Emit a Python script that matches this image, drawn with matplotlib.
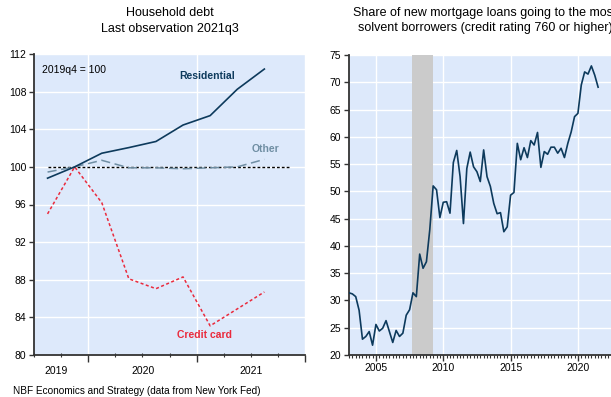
import numpy as np
import matplotlib
matplotlib.use("Agg")
import matplotlib.pyplot as plt
from matplotlib.ticker import FixedLocator, MultipleLocator, NullFormatter

plt.rcParams['font.family'] = ['Liberation Sans', 'DejaVu Sans']

# ---- Household debt, index 2019q4 = 100 (2019q3 .. 2021q3) ----
quarters = ["2019q3", "2019q4", "2020q1", "2020q2", "2020q3", "2020q4",
            "2021q1", "2021q2", "2021q3"]
residential = [98.8, 100.0, 101.45, 102.05, 102.7, 104.45, 105.45, 108.25, 110.4]
other = [99.45, 100.0, 100.7, 99.9, 99.9, 99.8, 99.9, 100.0, 100.8]
credit_card = [95.0, 100.0, 96.2, 88.1, 87.05, 88.3, 83.1, 84.9, 86.7]
year_labels = ["2019", "2020", "2021"]

# ---- Share of new mortgage loans to borrowers with credit score >= 760 ----
share_start = 2003.0
share_760 = [
    31.4, 31.2, 30.7, 28.2,   # 2003
    22.9, 23.4, 24.3, 21.8,   # 2004
    25.6, 24.4, 24.9, 26.3,   # 2005
    24.3, 22.3, 24.5, 23.4,   # 2006
    24.0, 27.3, 28.3, 31.4,   # 2007
    30.7, 38.5, 35.9, 37.1,   # 2008
    43.0, 51.0, 50.3, 45.2,   # 2009
    48.0, 48.1, 46.0, 55.3,   # 2010
    57.5, 52.7, 44.1, 54.2,   # 2011
    57.2, 54.5, 53.6, 51.8,   # 2012
    57.6, 52.7, 50.9, 47.8,   # 2013
    45.9, 46.1, 42.6, 43.5,   # 2014
    49.3, 49.8, 58.8, 55.8,   # 2015
    58.0, 56.2, 59.3, 58.5,   # 2016
    60.8, 54.4, 57.3, 56.8,   # 2017
    58.1, 58.1, 57.0, 57.9,   # 2018
    56.2, 58.8, 60.9, 63.7,   # 2019
    64.3, 69.5, 71.9, 71.5,   # 2020
    73.0, 71.3, 69.1,         # 2021
]
recession = (2007.7, 2009.25)

BG = "#dde9fb"
NAVY = "#0d3a5c"
OTHER = "#6f8ea3"
RED = "#ea2a3c"
SPINE = "#333333"

fig = plt.figure(figsize=(6.11, 3.97), dpi=100)

# ---------------- left panel ----------------
ax1 = fig.add_axes([34 / 611, 1 - 355 / 397, 271 / 611, 301 / 397])
ax1.set_facecolor(BG)
xq = np.arange(len(quarters)) + 0.5

ax1.plot([xq[0], xq[-1] + 1], [100, 100], color="black", lw=1.0,
         ls=(0, (2, 1.5)), zorder=3)
ax1.plot(xq, other, color=OTHER, lw=1.1, ls=(0, (6, 3)), zorder=4)
ax1.plot(xq, credit_card, color=RED, lw=1.1, ls=(0, (2, 1.6)), zorder=4)
ax1.plot(xq, residential, color=NAVY, lw=1.2, zorder=5)

ax1.set_xlim(0, 10)
ax1.set_ylim(80, 112)
ax1.set_yticks(np.arange(80, 113, 4))
ax1.xaxis.set_major_locator(FixedLocator([2, 6, 10]))
ax1.xaxis.set_major_formatter(NullFormatter())
ax1.xaxis.set_minor_locator(MultipleLocator(1))
ax1.grid(True, which="major", color="white", lw=1.0)
for x, lab in zip([0.8, 4.03, 8.03], year_labels):
    ax1.text(x, -0.035, lab, transform=ax1.get_xaxis_transform(),
             ha="center", va="top", fontsize=7.5)

ax1.text(0.03, 0.965, "2019q4 = 100", transform=ax1.transAxes,
         fontsize=7.5, ha="left", va="top")
ax1.text(6.4, 109.7, "Residential", color=NAVY, fontsize=7.5,
         fontweight="bold", ha="center", va="center")
ax1.text(8.55, 101.9, "Other", color=OTHER, fontsize=7.5,
         fontweight="bold", ha="center", va="center")
ax1.text(6.3, 82.1, "Credit card", color=RED, fontsize=7.5,
         fontweight="bold", ha="center", va="center")
ax1.set_title("Household debt\nLast observation 2021q3", fontsize=9,
              pad=16, linespacing=1.4)

# ---------------- right panel ----------------
ax2 = fig.add_axes([349 / 611, 1 - 355 / 397, 272 / 611, 300 / 397])
ax2.set_facecolor(BG)
t = share_start + np.arange(len(share_760)) / 4
ax2.axvspan(*recession, color="#cbcbcb", lw=0, zorder=1)
ax2.plot(t, share_760, color=NAVY, lw=1.2, zorder=4)
ax2.set_xlim(2003.0, 2023.2)
ax2.set_ylim(20, 75)
ax2.set_yticks(np.arange(20, 76, 5))
ax2.set_xticks([2005, 2010, 2015, 2020])
ax2.xaxis.set_minor_locator(MultipleLocator(0.25))
ax2.grid(True, which="major", color="white", lw=1.0, zorder=2)
ax2.set_axisbelow(True)
ax2.set_title("Share of new mortgage loans going to the most\n"
              "solvent borrowers (credit rating 760 or higher)",
              fontsize=9, pad=17, linespacing=1.4)

for ax in (ax1, ax2):
    for s in ("top", "right"):
        ax.spines[s].set_visible(False)
    for s in ("left", "bottom"):
        ax.spines[s].set_color(SPINE)
        ax.spines[s].set_linewidth(1.3)
    ax.tick_params(axis="both", which="major", labelsize=7.5, length=3.5,
                   width=1.0, color=SPINE, pad=2)
    ax.tick_params(axis="x", which="minor", length=2, width=0.8, color=SPINE)
    ax.set_axisbelow(True)

ax1.tick_params(axis="x", which="major", length=5)
ax1.tick_params(axis="x", which="minor", direction="inout", length=3)
ax2.tick_params(axis="x", which="major", length=4)

fig.text(13 / 611, 1 - 391 / 397, "NBF Economics and Strategy (data from New York Fed)",
         fontsize=7.2, ha="left", va="center")

fig.savefig("out.png", dpi=100)
